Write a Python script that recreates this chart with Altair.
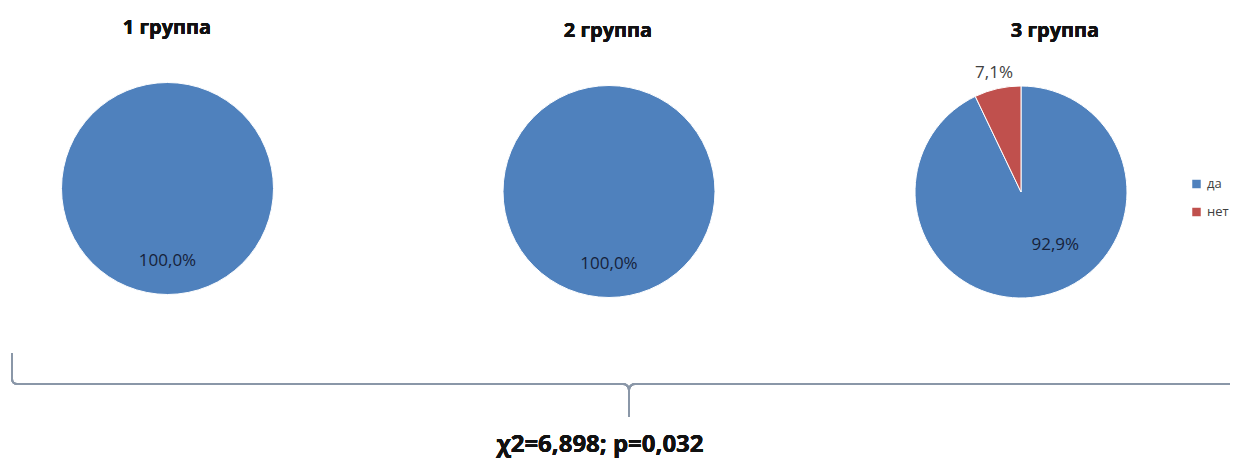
import math
import altair as alt
import pandas as pd

# ---- data ----
groups = ["1 группа", "2 группа", "3 группа"]
categories = ["да", "нет"]
da_pct = [100.0, 100.0, 92.9]
net_pct = [0.0, 0.0, 7.1]
stat_text = "χ2=6,898; p=0,032"
colors = ["#4F81BD", "#C0504D"]

rows = []
for g, d, n in zip(groups, da_pct, net_pct):
    for o, (c, v) in enumerate(zip(categories, [d, n])):
        if v > 0:
            rows.append({"group": g, "cat": c, "value": v, "order": o,
                         "label": f"{v:.1f}".replace(".", ",") + "%"})
df = pd.DataFrame(rows)

# ---- layout (reference pixel coords, page margin offset) ----
OX, OY = 8, 8
W, H = 1222, 451
centers = [(167.5, 188.5), (609, 191.5), (1021, 192)]
title_pos = [(167, 34), (608, 37), (1055, 37)]
R = 106
FONT = "Open Sans"
brace_color = "#8a97a8"
label_color = "#16213a"


def X(v):
    return alt.value(v - OX)


def Y(v):
    return alt.value(v - OY)


color = alt.Color(
    "cat:N",
    scale=alt.Scale(domain=categories, range=colors),
    legend=alt.Legend(orient="none", legendX=1182, legendY=169.5, title=None,
                      symbolType="square", symbolSize=72, symbolStrokeWidth=0,
                      labelFont=FONT, labelFontSize=13, labelColor="#404040",
                      rowPadding=14, labelOffset=4, padding=0, labelLimit=0),
)

layers = []
for g, (cx, cy) in zip(groups, centers):
    layers.append(
        alt.Chart(df).transform_filter(alt.datum.group == g)
        .mark_arc(outerRadius=R, stroke="white", strokeWidth=1)
        .encode(theta=alt.Theta("value:Q", stack=True), color=color,
                order=alt.Order("order:Q"), x=X(cx), y=Y(cy))
    )


def label_layer(g, center, radius, cat, dx=0, dy=0, col=label_color):
    cx, cy = center
    return (
        alt.Chart(df).transform_filter(alt.datum.group == g)
        .transform_calculate(t=f"datum.cat == '{cat}' ? datum.label : ''")
        .mark_text(radius=radius, dx=dx, dy=dy, font=FONT, fontSize=17,
                   color=col, align="center", baseline="middle")
        .encode(theta=alt.Theta("value:Q", stack=True), detail="cat:N",
                order=alt.Order("order:Q"), text="t:N", x=X(cx), y=Y(cy))
    )


layers.append(label_layer(groups[0], centers[0], 72, "да"))
layers.append(label_layer(groups[1], centers[1], 72, "да"))
layers.append(label_layer(groups[2], centers[2], 60, "да", dx=21, dy=-6))
layers.append(label_layer(groups[2], centers[2], 122, "нет", col="#404040"))

# titles
for g, (tx, ty) in zip(groups, title_pos):
    layers.append(
        alt.Chart(df).mark_text(text=g, font=FONT, fontSize=20, fontWeight="bold",
                                color="#111111", align="center", baseline="alphabetic")
        .encode(x=X(tx), y=Y(ty))
    )

# brace
def rule(x1, y1, x2, y2):
    return alt.Chart(df).mark_rule(color=brace_color, strokeWidth=2).encode(
        x=X(x1), x2=X(x2), y=Y(y1), y2=Y(y2))


def corner(cx, cy, r, t1, t2):
    return alt.Chart(df).mark_arc(innerRadius=r, outerRadius=r, theta=t1, theta2=t2,
                                  fill="white", fillOpacity=0, stroke=brace_color,
                                  strokeWidth=2).encode(x=X(cx), y=Y(cy))


layers += [
    rule(12, 353, 12, 379),
    corner(17, 379, 5, math.pi, 1.5 * math.pi),
    rule(17, 384, 623, 384),
    corner(623, 390, 6, 0, 0.5 * math.pi),
    corner(635, 390, 6, 1.5 * math.pi, 2 * math.pi),
    rule(629, 390, 629, 417),
    rule(635, 384, 1240, 384),
]

layers.append(
    alt.Chart(df).mark_text(text=stat_text, font=FONT, fontSize=24, fontWeight="bold",
                            color="#111111", align="center", baseline="alphabetic")
    .encode(x=X(600), y=Y(452))
)

chart = (
    alt.layer(*layers)
    .properties(width=W, height=H, padding=0, autosize="none", background="white")
    .configure_view(stroke=None)
)

chart.save("out.html", embed_options={"renderer": "svg", "actions": False})
